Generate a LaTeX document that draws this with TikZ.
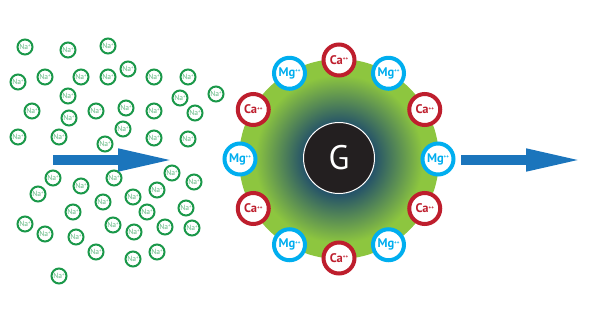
\documentclass[tikz,border=0pt]{standalone}
\usepackage{fontspec}
\setmainfont{PT Sans}
\usepackage{xcolor}
\usetikzlibrary{arrows.meta}
\definecolor{nagreen}{RGB}{26,152,73}
\definecolor{cared}{RGB}{190,30,45}
\definecolor{mgblue}{RGB}{0,174,239}
\definecolor{flowblue}{RGB}{27,117,188}
\definecolor{ballgreen}{RGB}{141,198,63}
\definecolor{balldark}{RGB}{38,84,104}
\definecolor{coreblack}{RGB}{35,31,32}
\pgfdeclareradialshading{ballshade}{\pgfpoint{0bp}{0bp}}{color(0bp)=(balldark); color(9bp)=(balldark); color(21bp)=(ballgreen); color(50bp)=(ballgreen)}
\newcommand{\ionup}[1]{\raisebox{0.55ex}{\fontsize{5}{5}\selectfont #1}}

\begin{document}
\begin{tikzpicture}[x=1pt, y=-1pt,
    naion/.style={circle, draw=nagreen, line width=2pt, fill=white, minimum size=15pt, inner sep=0pt,
      text=nagreen!70, font=\fontsize{7.5}{7.5}\selectfont},
    caion/.style={circle, draw=cared, line width=4pt, fill=white, minimum size=31pt, inner sep=0pt,
      text=cared, font=\bfseries\fontsize{12.5}{12.5}\selectfont},
    mgion/.style={caion, draw=mgblue, text=mgblue},
    flow/.style={draw=flowblue, line width=10pt, -{Triangle[length=59pt, width=20pt]}}]
    \useasboundingbox (0,0) rectangle (591,319);

    % Sodium ions on the left
    \foreach \px/\py [count=\k] in {25/47, 68/50, 108/46, 18/82, 45/77, 81/77, 108/77, 128/69,
        154/77, 188/77, 68/96, 180/98, 216/94, 32/111, 69/118, 96/111, 126/108, 154/111,
        195/113, 18/137, 59/137, 123/129, 105/144, 154/138, 188/139, 53/178, 114/178,
        172/173, 194/182, 38/194, 81/186, 157/190, 103/202, 133/197, 73/212, 147/212,
        186/208, 25/224, 113/225, 134/232, 165/227, 192/228, 45/234, 76/237, 96/252,
        133/259, 157/252, 59/276}
        \node[naion] (na\k) at (\px,\py) {Na\ionup{+}};

    % Incoming flow
    \coordinate (inTail) at (53,160);
    \coordinate (inTip) at (177,160);
    \draw[flow] (inTail) -- (inTip);

    % Resin bead with exchanged ions
    \node[circle, minimum size=200pt, inner sep=0pt, shading=ballshade] (ball) at (339,159) {};
    \node[circle, fill=coreblack, draw=white, line width=1pt, minimum size=71pt, inner sep=0pt,
      text=white, font=\fontsize{34}{34}\selectfont] (core) at (339,158) {G};

    \foreach \a [count=\k] in {90,150,210,270,330,30}
        \node[caion] (ca\k) at ({339+99*cos(\a)},{159+99*sin(\a)}) {Ca\ionup{++}};
    \foreach \a [count=\k] in {0,60,120,180,240,300}
        \node[mgion] (mg\k) at ({339+99*cos(\a)},{159+99*sin(\a)}) {Mg\ionup{++}};

    % Outgoing flow
    \coordinate (outTail) at (461,160);
    \coordinate (outTip) at (585,160);
    \draw[flow] (outTail) -- (outTip);
\end{tikzpicture}
\end{document}
